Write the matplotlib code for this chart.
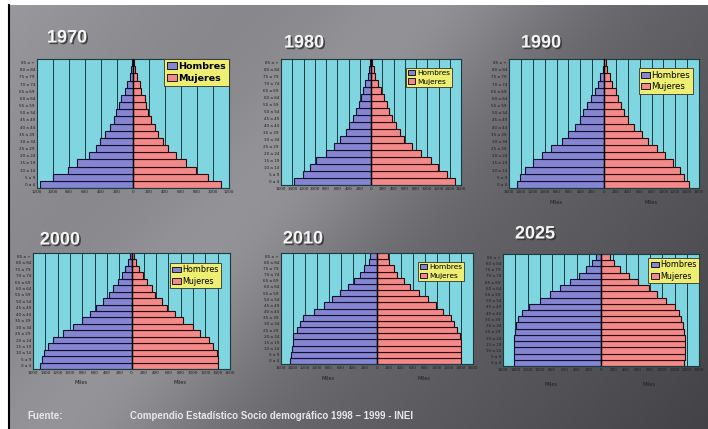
import matplotlib
matplotlib.use("Agg")
import matplotlib.pyplot as plt
import matplotlib.patheffects as pe
from matplotlib.patches import Patch
import numpy as np

# grupos de edad, de abajo (0 a 4) hacia arriba (85 a +)
edades = ["0 a 4", "5 a 9", "10 a 14", "15 a 19", "20 a 24", "25 a 29",
          "30 a 34", "35 a 39", "40 a 44", "45 a 49", "50 a 54", "55 a 59",
          "60 a 64", "65 a 69", "70 a 74", "75 a 79", "80 a 84", "85 a +"]

anios = ["1970", "1980", "1990", "2000", "2010", "2025"]

# miles de personas
hombres_1970 = [1158, 1000, 812, 696, 550, 467, 417, 354, 292, 242, 208, 175,
                146, 104, 75, 42, 21, 8]
mujeres_1970 = [1096, 938, 783, 658, 542, 438, 375, 312, 271, 229, 188, 167,
                146, 104, 83, 50, 21, 8]
hombres_1980 = [1365, 1206, 1088, 970, 794, 665, 547, 453, 394, 323, 265, 206,
                170, 135, 100, 59, 29, 12]
mujeres_1980 = [1500, 1353, 1194, 1059, 882, 735, 588, 512, 441, 382, 312, 276,
                235, 176, 118, 76, 59, 18]
hombres_1990 = [1465, 1408, 1335, 1194, 1037, 896, 715, 603, 490, 406, 360, 282,
                225, 152, 96, 68, 23, 6]
mujeres_1990 = [1425, 1352, 1285, 1160, 1031, 890, 749, 637, 507, 411, 338, 282,
                242, 203, 130, 101, 56, 34]
hombres_2000 = [1480, 1453, 1425, 1355, 1274, 1111, 948, 797, 667, 569, 461, 363,
                298, 217, 152, 108, 54, 27]
mujeres_2000 = [1409, 1409, 1393, 1328, 1263, 1111, 992, 840, 705, 569, 488, 379,
                325, 244, 179, 125, 70, 38]
hombres_2010 = [1448, 1437, 1420, 1404, 1393, 1326, 1281, 1226, 1058, 891, 752,
                613, 490, 379, 290, 212, 139, 111]
mujeres_2010 = [1404, 1404, 1393, 1393, 1382, 1337, 1281, 1226, 1103, 975, 847,
                696, 557, 446, 334, 279, 195, 178]
hombres_2025 = [1426, 1426, 1426, 1426, 1415, 1399, 1382, 1361, 1290, 1180, 990,
                827, 664, 511, 365, 240, 147, 76]
mujeres_2025 = [1361, 1366, 1377, 1377, 1377, 1361, 1339, 1306, 1268, 1214, 1067,
                914, 778, 599, 452, 316, 207, 141]

limites = [1200, 1600, 1600, 1600, 1600, 1600]

W, H = 708, 429
AZUL = "#8585d2"
ROSA = "#f28a8a"
CIAN = "#80d6e0"
AMARILLO = "#eeee72"


def px(x0, y0, x1, y1):
    """pixel box -> figure fraction [left, bottom, width, height]"""
    return [x0 / W, 1 - y1 / H, (x1 - x0) / W, (y1 - y0) / H]


fig = plt.figure(figsize=(W / 100, H / 100), dpi=100, facecolor="white")

# fondo gris degradado
bg = fig.add_axes(px(9, 5, W, H))
yy, xx = np.mgrid[0:H, 0:W]
d = (xx - (430 - 0.85 * yy)) / 130.0
v = 152 - 58 * (xx / W) - 28 * (yy / H) + 28 * np.exp(-d ** 2)
img = np.dstack([v, v, v + 5]) / 255.0
bg.imshow(np.clip(img, 0, 1), aspect="auto", extent=[0, 1, 0, 1])
bg.set_xticks([])
bg.set_yticks([])
for s in ["top", "right", "bottom"]:
    bg.spines[s].set_visible(False)
bg.spines["left"].set_color("black")
bg.spines["left"].set_linewidth(1.5)

# (hombres, mujeres, caja, titulo, leyenda, fuente leyenda, negrita, "Miles" px debajo)
paneles = [
    (hombres_1970, mujeres_1970, (37, 59, 229, 188), (67, 38), (1.0, 1.0), 6.8, True, None),
    (hombres_1980, mujeres_1980, (281, 59, 461, 185), (304, 43), (0.95, 0.93), 5.3, False, None),
    (hombres_1990, mujeres_1990, (509, 59, 699, 188), (541, 43), (0.968, 0.93), 6.2, False, 14),
    (hombres_2000, mujeres_2000, (33, 253, 230, 369), (60, 240), (0.954, 0.914), 5.8, False, 14),
    (hombres_2010, mujeres_2010, (281, 253, 473, 364), (303, 239), (0.953, 0.919), 5.3, False, 15),
    (hombres_2025, mujeres_2025, (503, 254, 699, 366), (535, 234), (1.0, 0.964), 5.8, False, 18),
]

y = np.arange(len(edades))
for i, (hom, muj, caja, tpos, lpos, lfs, negrita, miles) in enumerate(paneles):
    ax = fig.add_axes(px(*caja))
    ax.set_facecolor(CIAN)
    lim = limites[i]
    ticks = np.arange(-lim, lim + 1, 200)
    ax.set_xlim(-lim, lim)
    ax.set_ylim(-0.5, len(edades) - 0.5)
    for t in ticks:
        ax.axvline(t, color="#1a3a40", lw=0.7, zorder=1)
    ax.barh(y, -np.array(hom), height=1.0, color=AZUL, edgecolor="#101030",
            lw=0.8, zorder=2)
    ax.barh(y, muj, height=1.0, color=ROSA, edgecolor="#300808",
            lw=0.8, zorder=2)
    ax.axvline(0, color="black", lw=1.0, zorder=3)
    ax.set_xticks(ticks)
    ax.set_xticklabels([str(abs(t)) for t in ticks], fontsize=3.0,
                       color="#202020")
    ax.set_yticks(y)
    ax.set_yticklabels(edades, fontsize=3.0, color="#202020")
    ax.tick_params(length=0, pad=1.5)
    for s in ax.spines.values():
        s.set_color("#1a3a40")
        s.set_linewidth(0.8)

    leg = ax.legend(handles=[Patch(facecolor=AZUL, edgecolor="black", lw=0.6,
                                   label="Hombres"),
                             Patch(facecolor=ROSA, edgecolor="black", lw=0.6,
                                   label="Mujeres")],
                    loc="upper right", bbox_to_anchor=lpos, borderaxespad=0,
                    prop={"size": lfs,
                          "weight": "bold" if negrita else "normal"},
                    frameon=True, fancybox=False,
                    handlelength=1.0, handleheight=0.7, handletextpad=0.2,
                    borderpad=0.3, labelspacing=0.3)
    leg.get_frame().set_facecolor(AMARILLO)
    leg.get_frame().set_edgecolor("#303030")
    leg.get_frame().set_linewidth(0.6)
    leg.get_frame().set_alpha(1)
    leg.set_zorder(5)

    fig.text(tpos[0] / W, 1 - tpos[1] / H, anios[i], fontsize=13,
             fontweight="bold", color="#f4f4f4", ha="center", va="center",
             family="Liberation Sans",
             path_effects=[pe.withSimplePatchShadow(offset=(1.2, -1.2),
                                                    shadow_rgbFace="#303030",
                                                    alpha=0.8)])
    if miles:
        yf = -miles / (caja[3] - caja[1])
        for xf in (0.245, 0.745):
            ax.text(xf, yf, "Miles", transform=ax.transAxes, fontsize=3.6,
                    color="#202020", ha="center", va="center")

fig.text(27 / W, 1 - 416 / H, "Fuente:", fontsize=7, fontweight="bold",
         color="#e8e8e8", va="center", family="Liberation Sans")
fig.text(130 / W, 1 - 416 / H,
         "Compendio Estadístico Socio demográfico 1998 – 1999 - INEI",
         fontsize=7, fontweight="bold", color="#e8e8e8", va="center",
         family="Liberation Sans")

fig.savefig("out.png", dpi=100, facecolor=fig.get_facecolor())
